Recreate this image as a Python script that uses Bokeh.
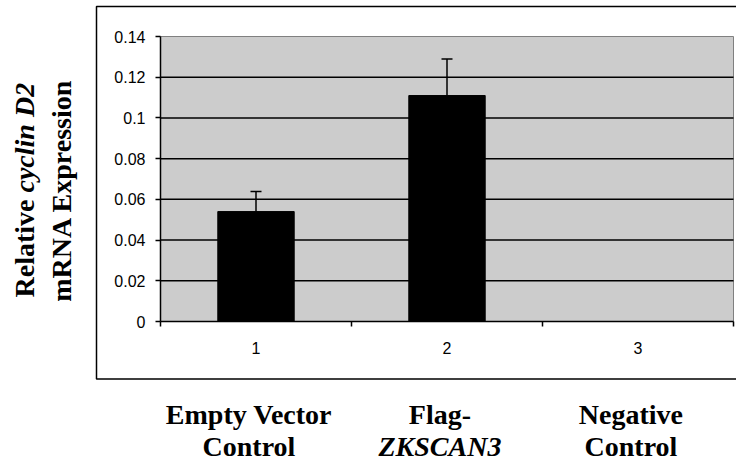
import math

from bokeh.embed import file_html
from bokeh.models import (BoxAnnotation, ColumnDataSource, FixedTicker, Label,
                          Range1d, TeeHead, Whisker)
from bokeh.plotting import figure
from bokeh.resources import INLINE

# ---- data -------------------------------------------------------------
groups = [1, 2, 3]
x_tick_labels = ["1", "2", "3"]
expression = [0.054, 0.111, 0.0]
error = [0.0098, 0.018, 0.0]
y_ticks = [0.0, 0.02, 0.04, 0.06, 0.08, 0.1, 0.12, 0.14]
y_tick_labels = ["0", "0.02", "0.04", "0.06", "0.08", "0.1", "0.12", "0.14"]
cat_line1 = ["Empty Vector", "Flag-", "Negative"]
cat_line2 = ["Control", "ZKSCAN3", "Control"]
cat_line2_style = ["bold", "bold italic", "bold"]

# ---- geometry ---------------------------------------------------------
W, H = 736, 470
FL, FR, FT, FB = 160, 733, 36, 321      # plot-area edges in pixels
X0, X1 = 0.5, 3.5                       # plot-area data extent
Y0, Y1 = 0.0, 0.14


def dx(px):
    """pixel column -> data x"""
    return X0 + (px - FL) * (X1 - X0) / (FR - FL)


def dy(py):
    """pixel row -> data y"""
    return Y0 + (FB - py) * (Y1 - Y0) / (FB - FT)


SERIF = "Liberation Serif"
SANS = "Liberation Sans"

# the frame covers the whole canvas; axes are pinned to the plot-area edges
p = figure(width=W, height=H,
           x_range=Range1d(dx(0), dx(W)), y_range=Range1d(dy(H), dy(0)),
           output_backend="svg", toolbar_location=None,
           min_border_left=0, min_border_right=0,
           min_border_top=0, min_border_bottom=0)
p.background_fill_color = "white"
p.border_fill_color = "white"
p.outline_line_color = None
p.xgrid.visible = False
p.ygrid.visible = False

# grey plot area
p.add_layout(BoxAnnotation(left=X0, right=X1, bottom=Y0, top=Y1,
                           fill_color="#cccccc", fill_alpha=1,
                           line_color="#808080", line_alpha=1, line_width=1,
                           level="underlay"))

# horizontal grid lines inside the plot area
grid_y = y_ticks[1:-1]
p.segment(x0=[X0] * len(grid_y), x1=[X1] * len(grid_y), y0=grid_y, y1=grid_y,
          line_color="black", line_width=1.5)

# y axis
yax = p.yaxis[0]
yax.fixed_location = X0
yax.bounds = (Y0, Y1)
yax.ticker = FixedTicker(ticks=y_ticks)
yax.major_label_overrides = dict(zip(y_ticks, y_tick_labels))
yax.major_tick_out = 5
yax.major_tick_in = 0
yax.minor_tick_out = 0
yax.minor_tick_in = 0
yax.axis_line_color = "black"
yax.axis_line_width = 1.5
yax.major_tick_line_width = 1.5
yax.major_label_text_font = SANS
yax.major_label_text_font_size = "16px"
yax.major_label_text_color = "black"
yax.major_label_standoff = 10

# x axis: numbered categories, ticks on the category boundaries
xax = p.xaxis[0]
xax.fixed_location = Y0
xax.bounds = (X0, X1)
boundaries = [g - 0.5 for g in groups] + [groups[-1] + 0.5]
xax.ticker = FixedTicker(ticks=groups, minor_ticks=boundaries)
xax.major_label_overrides = dict(zip(groups, x_tick_labels))
xax.major_tick_out = 0
xax.major_tick_in = 0
xax.minor_tick_out = 5
xax.minor_tick_in = 0
xax.minor_tick_line_color = "black"
xax.minor_tick_line_width = 1.5
xax.axis_line_color = "black"
xax.axis_line_width = 1.5
xax.major_label_text_font = SANS
xax.major_label_text_font_size = "16px"
xax.major_label_text_color = "black"
xax.major_label_standoff = 15

# bars
src = ColumnDataSource(dict(x=groups, value=expression, err=error))
p.vbar(x="x", top="value", width=0.4, source=src,
       fill_color="black", line_color="black", line_width=1)

# upper error bars
eb_x = [g for g, e in zip(groups, error) if e > 0]
eb_lo = [v for v, e in zip(expression, error) if e > 0]
eb_hi = [v + e for v, e in zip(expression, error) if e > 0]
eb_src = ColumnDataSource(dict(x=eb_x, lower=eb_lo, upper=eb_hi))
p.add_layout(Whisker(base="x", lower="lower", upper="upper", source=eb_src,
                     upper_head=TeeHead(size=11, line_color="black", line_width=1.5),
                     lower_head=None, line_color="black", line_width=1.5))

# outer chart box
p.add_layout(BoxAnnotation(left=dx(96), right=dx(W + 20), top=dy(6), bottom=dy(378.5),
                           fill_alpha=0, line_color="black", line_alpha=1,
                           line_width=1.5, level="overlay"))

# y-axis title (two lines, rotated)
title_kw = dict(text_font=SERIF, text_font_size="28px", text_color="black",
                angle=math.pi / 2, text_baseline="alphabetic")
p.add_layout(Label(x=dx(24), y=dy(297), text="Relative", text_align="left",
                   text_font_style="bold", **title_kw))
p.add_layout(Label(x=dx(24), y=dy(192), text="cyclin D2", text_align="left",
                   text_font_style="bold italic", **title_kw))
p.add_layout(Label(x=dx(61), y=dy(190), text="mRNA Expression", text_align="center",
                   text_font_style="bold", **title_kw))

# category names below the box
cat_kw = dict(text_font=SERIF, text_font_size="28px", text_color="black",
              text_align="center", text_baseline="alphabetic")
for g, l1, l2, st in zip(groups, cat_line1, cat_line2, cat_line2_style):
    p.add_layout(Label(x=g - 0.037, y=dy(414), text=l1, text_font_style="bold", **cat_kw))
    p.add_layout(Label(x=g - 0.037, y=dy(446), text=l2, text_font_style=st, **cat_kw))

open("out.html", "w").write(file_html(p, INLINE))
